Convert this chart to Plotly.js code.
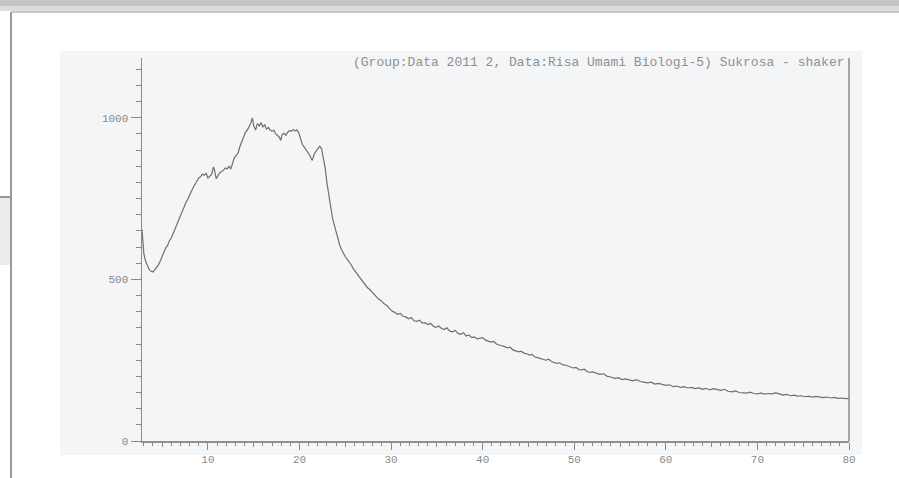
<!DOCTYPE html>
<html>
<head>
<meta charset="utf-8">
<script src="https://cdn.plot.ly/plotly-3.0.1.min.js"></script>
<style>html,body{margin:0;padding:0;background:#fff;}#chart{width:899px;height:478px;}</style>
</head>
<body>
<div id="chart"></div>
<script>
// 2-theta (degrees) and intensity
const twoTheta = [2.8,2.9,3.0,3.2,3.4,3.6,3.8,4.0,4.2,4.4,4.6,4.8,5.0,5.2,5.4,5.6,5.8,6.0,6.2,6.4,6.6,6.8,7.0,7.2,7.4,7.6,7.8,8.0,8.2,8.4,8.6,8.8,9.0,9.2,9.4,9.6,9.8,10.0,10.2,10.4,10.6,10.7,10.9,11.1,11.3,11.5,11.7,11.9,12.1,12.3,12.5,12.7,12.9,13.1,13.3,13.5,13.7,13.9,14.1,14.3,14.5,14.7,14.85,15.0,15.2,15.4,15.6,15.8,16.0,16.2,16.4,16.6,16.8,17.0,17.2,17.4,17.6,17.8,17.95,18.1,18.3,18.5,18.7,18.9,19.1,19.3,19.5,19.7,19.9,20.1,20.3,20.5,20.7,20.9,21.1,21.3,21.4,21.6,21.8,22.0,22.2,22.4,22.6,22.8,23.0,23.2,23.4,23.6,23.8,24.0,24.2,24.4,24.6,24.8,25.0,25.3,25.6,25.9,26.2,26.5,26.8,27.1,27.4,27.7,28.0,28.3,28.6,28.9,29.2,29.5,29.8,30.1,30.4,30.7,31.0,31.3,31.6,31.9,32.2,32.5,32.8,33.1,33.4,33.7,34.0,34.3,34.6,34.9,35.2,35.5,35.8,36.1,36.4,36.7,37.0,37.3,37.6,37.9,38.2,38.5,38.8,39.1,39.4,39.7,40.0,40.3,40.6,40.9,41.2,41.5,41.8,42.1,42.4,42.7,43.0,43.3,43.6,43.9,44.2,44.5,44.8,45.1,45.4,45.7,46.0,46.3,46.6,46.9,47.2,47.5,47.8,48.1,48.4,48.7,49.0,49.3,49.6,49.9,50.2,50.5,50.8,51.1,51.4,51.7,52.0,52.4,52.8,53.2,53.6,54.0,54.4,54.8,55.2,55.6,56.0,56.4,56.8,57.2,57.6,58.0,58.4,58.8,59.2,59.6,60.0,60.4,60.8,61.2,61.6,62.0,62.4,62.8,63.2,63.6,64.0,64.4,64.8,65.2,65.6,66.0,66.4,66.8,67.2,67.6,68.0,68.4,68.8,69.2,69.6,70.0,70.4,70.8,71.2,71.6,72.0,72.4,72.8,73.2,73.6,74.0,74.4,74.8,75.2,75.6,76.0,76.4,76.8,77.2,77.6,78.0,78.4,78.8,79.2,79.6,80.0];
const intensity = [655,610,580,555,540,530,525,523,530,538,545,558,572,585,598,605,620,628,642,655,665,684,697,710,725,738,748,762,772,785,795,805,814,818,826,822,828,814,820,825,848,840,812,820,830,834,838,845,842,850,841,860,878,884,892,912,928,945,955,962,972,985,1000,975,962,982,975,985,972,978,965,970,962,958,962,950,945,940,930,948,952,946,955,960,958,964,960,962,955,938,918,910,902,895,885,872,868,888,895,905,912,905,880,845,798,760,725,690,668,645,622,605,592,578,570,558,547,532,520,508,497,485,475,468,458,448,440,435,425,420,412,402,398,392,395,386,384,378,382,372,370,374,365,366,360,364,355,352,356,348,345,350,340,338,342,333,330,335,325,328,320,322,316,318,320,312,310,306,308,300,297,295,292,288,290,282,280,276,278,272,270,266,268,260,258,256,252,250,253,246,243,240,242,236,235,232,228,226,228,221,220,222,215,212,214,209,206,208,200,198,194,196,190,192,188,186,190,184,182,180,182,176,178,174,172,174,168,170,166,168,164,166,162,164,160,163,158,162,159,157,160,154,152,155,150,150,148,151,147,146,148,145,147,146,149,146,142,144,140,142,139,140,137,139,136,138,135,134,136,133,135,132,133,131,132];
const xTickVals = [10,20,30,40,50,60,70,80];
const yTickVals = [0,500,1000];
const titleText = "(Group:Data 2011 2, Data:Risa Umami Biologi-5) Sukrosa - shaker";

const grey = "#8a8a8a";
const mono = "Liberation Mono, DejaVu Sans Mono, monospace";

const trace = {
  x: twoTheta, y: intensity, type: "scatter", mode: "lines",
  line: {color: "#6f6f6f", width: 1.2}, hoverinfo: "skip", showlegend: false
};
// invisible trace to carry the mid (5-degree) ticks on an overlay axis
const mid = {x: [twoTheta[0]], y: [0], xaxis: "x2", yaxis: "y", mode: "markers",
  marker: {opacity: 0}, hoverinfo: "skip", showlegend: false};

const X = px => (px - 142) / 707;
const Y = py => (441 - py) / 383;

const layout = {
  width: 899, height: 478,
  margin: {l: 142, r: 50, t: 58, b: 37},
  paper_bgcolor: "#ffffff",
  plot_bgcolor: "#f3f5f7",
  showlegend: false,
  xaxis: {
    range: [2.8, 80], tickvals: xTickVals, ticktext: xTickVals.map(String),
    ticks: "outside", ticklen: 7, tickwidth: 1, tickcolor: grey,
    showline: true, linecolor: "#8f8f8f", linewidth: 1.5,
    showgrid: false, zeroline: false,
    tickfont: {family: mono, size: 11, color: grey},
    minor: {dtick: 1, ticks: "outside", ticklen: 3, tickcolor: grey, showgrid: false}
  },
  xaxis2: {
    overlaying: "x", range: [2.8, 80], anchor: "y", side: "bottom",
    tickvals: [5,15,25,35,45,55,65,75], ticks: "outside", ticklen: 5, tickcolor: grey,
    showticklabels: false, showgrid: false, zeroline: false, showline: false
  },
  yaxis: {
    range: [0, 1185], tickvals: yTickVals, ticktext: yTickVals.map(String),
    ticks: "outside", ticklen: 10, tickwidth: 1, tickcolor: grey,
    showline: true, linecolor: "#8a8a8a", linewidth: 1.5,
    showgrid: false, zeroline: false,
    tickfont: {family: mono, size: 11, color: grey},
    minor: {dtick: 50, ticks: "outside", ticklen: 5, tickcolor: grey, showgrid: false}
  },
  annotations: [{
    xref: "paper", yref: "paper", x: X(846), y: Y(62), xanchor: "right", yanchor: "middle",
    text: titleText, showarrow: false, font: {family: mono, size: 13, color: "#909090"}
  }],
  shapes: [
    // scanned page background
    {type: "rect", xref: "paper", yref: "paper", x0: X(60), x1: X(862), y0: Y(455), y1: Y(51),
     fillcolor: "#f3f5f7", line: {width: 0}, layer: "below"},
    // right frame line
    {type: "line", xref: "paper", yref: "paper", x0: X(849), x1: X(849), y0: 0, y1: Y(58),
     line: {color: "#8a8a8a", width: 1.5}},
    // window chrome: top bar
    {type: "rect", xref: "paper", yref: "paper", x0: X(0), x1: X(899), y0: Y(6), y1: Y(0),
     fillcolor: "#c4c4c4", line: {width: 0}},
    {type: "rect", xref: "paper", yref: "paper", x0: X(0), x1: X(899), y0: Y(11), y1: Y(6),
     fillcolor: "#dcdcdc", line: {width: 0}},
    {type: "line", xref: "paper", yref: "paper", x0: X(11), x1: X(899), y0: Y(12), y1: Y(12),
     line: {color: "#b5b5b5", width: 1.5}},
    // left border
    {type: "line", xref: "paper", yref: "paper", x0: X(11), x1: X(11), y0: Y(478), y1: Y(12),
     line: {color: "#9a9a9a", width: 2}},
    {type: "rect", xref: "paper", yref: "paper", x0: X(0), x1: X(10), y0: Y(265), y1: Y(197),
     fillcolor: "#ececec", line: {width: 0}},
    {type: "line", xref: "paper", yref: "paper", x0: X(0), x1: X(10), y0: Y(197), y1: Y(197),
     line: {color: "#777777", width: 1.5}}
  ]
};

Plotly.newPlot("chart", [trace, mid], layout, {staticPlot: true, displayModeBar: false});
</script>
</body>
</html>
